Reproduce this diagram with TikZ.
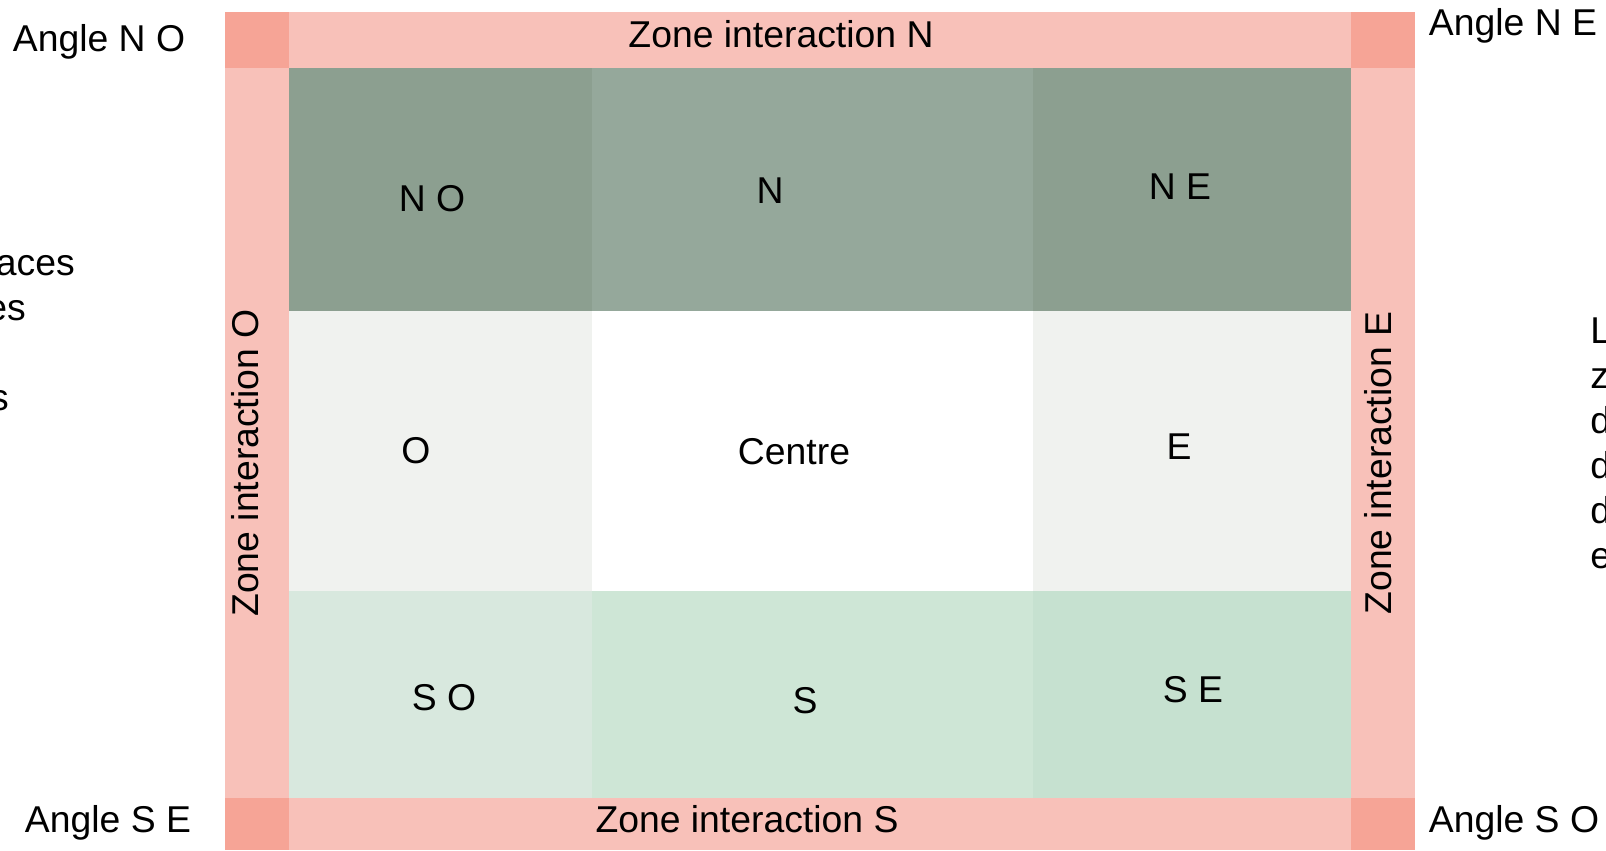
\documentclass[tikz,border=0pt]{standalone}
\usepackage{fontspec}
\setmainfont{Liberation Sans}
\usetikzlibrary{positioning}
\definecolor{coin}{RGB}{246,164,150}
\definecolor{bande}{RGB}{248,193,185}
\definecolor{nordcote}{RGB}{140,159,144}
\definecolor{nord}{RGB}{149,168,155}
\definecolor{milieu}{RGB}{240,242,239}
\definecolor{sudouest}{RGB}{216,232,222}
\definecolor{sud}{RGB}{206,230,214}
\definecolor{sudest}{RGB}{198,225,208}

\begin{document}
\begin{tikzpicture}[x=0.75pt,y=-0.75pt,
  lbl/.style={anchor=base,inner sep=0pt,font=\fontsize{28}{28}\selectfont},
  vlbl/.style={lbl,rotate=90},
  frag/.style={lbl,anchor=base east}]
\useasboundingbox (0,0) rectangle (1606,850);
\fill[bande] (225,12) rectangle (1415,850);
\fill[coin] (225,12) rectangle (289,68);
\fill[coin] (1351,12) rectangle (1415,68);
\fill[coin] (225,798) rectangle (289,850);
\fill[coin] (1351,798) rectangle (1415,850);
\fill[nordcote] (289,68) rectangle (592,311);
\fill[nord] (592,68) rectangle (1033,311);
\fill[nordcote] (1033,68) rectangle (1351,311);
\fill[milieu] (289,311) rectangle (592,591);
\fill[white] (592,311) rectangle (1033,591);
\fill[milieu] (1033,311) rectangle (1351,591);
\fill[sudouest] (289,591) rectangle (592,798);
\fill[sud] (592,591) rectangle (1033,798);
\fill[sudest] (1033,591) rectangle (1351,798);

\node[lbl] (angleNO) at (99,51) {Angle N O};
\node[lbl] (zoneN) at (781,47) {Zone interaction N};
\node[lbl] (angleNE) at (1513,35) {Angle N E};
\node[lbl] (cNO) at (432,211) {N O};
\node[lbl] (cN) at (770,203) {N};
\node[lbl] (cNE) at (1180,199) {N E};
\node[vlbl] (zoneO) at (258,463) {Zone interaction O};
\node[lbl] (cO) at (416,463) {O};
\node[lbl] (centre) at (794,464) {Centre};
\node[lbl] (cE) at (1179,459) {E};
\node[vlbl] (zoneE) at (1391,463) {Zone interaction E};
\node[lbl] (cSO) at (444,710) {S O};
\node[lbl] (cS) at (805,713) {S};
\node[lbl] (cSE) at (1193,702) {S E};
\node[lbl] (angleSE) at (108,832) {Angle S E};
\node[lbl] (zoneS) at (747,832) {Zone interaction S};
\node[lbl] (angleSO) at (1514,832) {Angle S O};

\node[frag] (gauche1) at (75,275) {aces};
\node[frag] (gauche2) at (26,320) {es};
\node[frag] (gauche3) at (9,410) {s};
\node[lbl,anchor=base west] (droite1) at (1590,343) {L};
\node[lbl,anchor=base west] (droite2) at (1590,388) {z};
\node[lbl,anchor=base west] (droite3) at (1590,433) {d};
\node[lbl,anchor=base west] (droite4) at (1590,478) {d};
\node[lbl,anchor=base west] (droite5) at (1590,523) {d};
\node[lbl,anchor=base west] (droite6) at (1590,568) {e};
\end{tikzpicture}
\end{document}
